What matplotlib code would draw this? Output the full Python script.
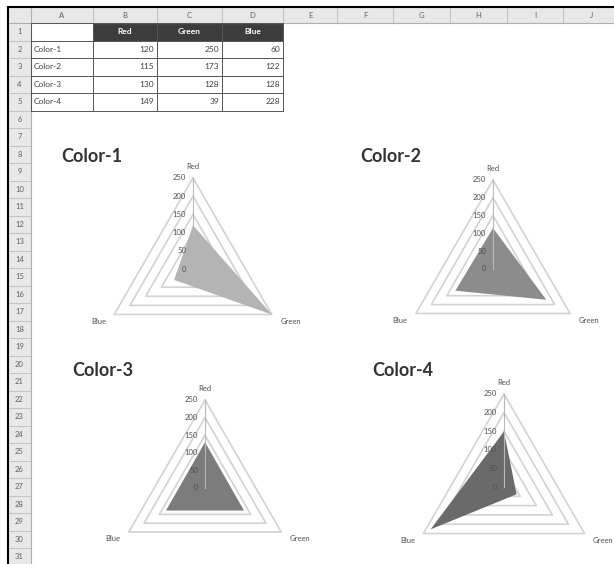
import numpy as np
import matplotlib.pyplot as plt
from matplotlib.patches import Rectangle

# data
categories = ["Red", "Green", "Blue"]
row_names = ["Color-1", "Color-2", "Color-3", "Color-4"]
red_vals = [120, 115, 130, 149]
green_vals = [250, 173, 128, 39]
blue_vals = [60, 122, 128, 228]
r_ticks = [0, 50, 100, 150, 200, 250]
col_letters = ["A", "B", "C", "D", "E", "F", "G", "H", "I", "J"]
n_rows = 31

# styling / layout (pixels on a 614x564 canvas)
fill_grays = ["#b4b4b4", "#8c8c8c", "#7c7c7c", "#6a6a6a"]
col_edges = [8, 31, 93, 157, 222, 283, 337, 393, 450, 507, 563, 620]
hdr_top, row_top, row_h = 7, 23, 17.5
# chart centre x, centre y, radius ; title x, y
charts = [
    (193, 269, 91, 61, 157),
    (493, 269, 89, 360, 157),
    (205, 488, 88, 72, 371),
    (504, 487, 93, 372, 371),
]
W, H = 614, 564

plt.rcParams["font.family"] = ["Lato", "DejaVu Sans"]

fig = plt.figure(figsize=(W / 100, H / 100), dpi=100)
fig.patch.set_facecolor("white")

# (1) worksheet background: headers and table
bg = fig.add_axes([0, 0, 1, 1])
bg.set_xlim(0, W)
bg.set_ylim(H, 0)
bg.axis("off")

bg.add_patch(Rectangle((8, hdr_top), W, row_top - hdr_top, color="#e8e8e8", lw=0))
bg.add_patch(Rectangle((8, hdr_top), col_edges[1] - 8, H, color="#e8e8e8", lw=0))
for i, letter in enumerate(col_letters):
    x0, x1 = col_edges[i + 1], col_edges[i + 2]
    bg.plot([x1, x1], [hdr_top, row_top], color="#c4c4c4", lw=0.8)
    bg.text((x0 + x1) / 2, (hdr_top + row_top) / 2 + 1, letter, ha="center",
            va="center", fontsize=5.5, color="#606060")
for r in range(n_rows):
    y0 = row_top + r * row_h
    bg.plot([8, col_edges[1]], [y0 + row_h, y0 + row_h], color="#c4c4c4", lw=0.8)
    bg.text((8 + col_edges[1]) / 2, y0 + row_h / 2, str(r + 1), ha="center",
            va="center", fontsize=5.5, color="#606060")
bg.plot([8, W], [row_top, row_top], color="#b0b0b0", lw=0.8)
bg.plot([col_edges[1], col_edges[1]], [hdr_top, H], color="#b0b0b0", lw=0.8)
bg.plot([8, W], [hdr_top, hdr_top], color="black", lw=1.5)
bg.plot([8, 8], [hdr_top, H], color="black", lw=1.5)

# table A1:D5
for j, cat in enumerate(categories):
    x0, x1 = col_edges[j + 2], col_edges[j + 3]
    bg.add_patch(Rectangle((x0, row_top), x1 - x0, row_h, color="#3c3c3c", lw=0))
    bg.text((x0 + x1) / 2, row_top + row_h / 2, cat, ha="center", va="center",
            fontsize=6, color="white", fontweight="bold")
table_vals = list(zip(red_vals, green_vals, blue_vals))
for i, name in enumerate(row_names):
    yc = row_top + (i + 1.5) * row_h
    bg.text(col_edges[1] + 3, yc, name, ha="left", va="center", fontsize=6,
            color="#404040")
    for j, v in enumerate(table_vals[i]):
        bg.text(col_edges[j + 3] - 3, yc, str(v), ha="right", va="center",
                fontsize=6, color="#404040")
for k in range(6):
    y = row_top + k * row_h
    bg.plot([col_edges[1], col_edges[5]], [y, y], color="#555555", lw=0.7)
for k in range(1, 6):
    bg.plot([col_edges[k], col_edges[k]], [row_top, row_top + 5 * row_h],
            color="#555555", lw=0.7)

# (2) radar charts
theta = np.deg2rad([0, 120, 240, 0])
label_offsets = [(0, 8, "center"), (6, -5, "left"), (-6, -5, "right")]

for i, (cx, cy, R, tx, ty) in enumerate(charts):
    ax = fig.add_axes([(cx - R) / W, 1 - (cy + R) / H, 2 * R / W, 2 * R / H],
                      projection="polar")
    ax.set_theta_offset(np.pi / 2)
    ax.set_theta_direction(-1)
    ax.set_ylim(0, r_ticks[-1])
    ax.grid(False)
    ax.set_xticks([])
    ax.set_yticks([])
    ax.spines["polar"].set_visible(False)
    ax.patch.set_alpha(0)

    for t in r_ticks[1:]:
        ax.plot(theta, [t] * 4, color="#d2d2d2", lw=1.2, zorder=1, clip_on=False)

    vals = [red_vals[i], green_vals[i], blue_vals[i], red_vals[i]]
    ax.fill(theta, vals, color=fill_grays[i], lw=0, zorder=2, clip_on=False)

    ax.plot([0, 0], [0, r_ticks[-1]], color="#b8b8b8", lw=0.8, zorder=3,
            clip_on=False)
    for t in r_ticks:
        ax.annotate(str(t), xy=(0, t), xytext=(-5, 0), textcoords="offset points",
                    ha="right", va="center", fontsize=5.5, color="#505050")

    for k, cat in enumerate(categories):
        dx, dy, ha = label_offsets[k]
        ax.annotate(cat, xy=(theta[k], r_ticks[-1]), xytext=(dx, dy),
                    textcoords="offset points", ha=ha, va="center",
                    fontsize=5.5, color="#505050")

    fig.text(tx / W, 1 - ty / H, row_names[i], ha="left", va="center",
             fontsize=13, fontweight="bold", color="#333333")

fig.savefig("out.png", dpi=100)
